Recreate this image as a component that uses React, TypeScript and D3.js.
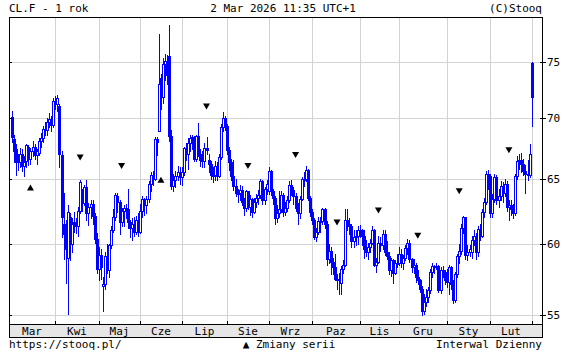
import React from 'react';
import * as d3 from 'd3';

type C = [number, number, number, number]; // open, high, low, close

const monthLabels = ['Mar', 'Kwi', 'Maj', 'Cze', 'Lip', 'Sie', 'Wrz', 'Paz', 'Lis', 'Gru', 'Sty', 'Lut'];
const yTicks = [55, 60, 65, 70, 75];

const mar25: C[] = [
  [70.1, 70.6, 68.0, 68.4], [68.2, 68.6, 66.3, 67.2], [67.4, 67.8, 65.3, 66.3], [66.4, 67.0, 65.7, 66.4],
  [66.3, 67.5, 65.9, 67.0], [67.0, 67.4, 65.6, 66.0], [66.0, 66.8, 65.2, 66.3], [66.4, 67.8, 65.9, 67.7],
  [67.6, 67.7, 66.1, 66.6], [66.6, 67.5, 66.2, 67.2], [67.2, 68.1, 66.8, 67.6], [67.6, 67.8, 66.6, 66.9],
  [66.9, 67.4, 66.2, 67.2], [67.1, 68.3, 66.9, 68.1], [68.1, 68.7, 67.6, 68.3], [68.3, 69.3, 68.0, 69.1],
  [69.1, 69.7, 68.6, 69.0], [69.0, 70.0, 68.6, 69.7], [69.7, 70.4, 69.2, 69.9], [69.9, 70.2, 68.9, 69.4],
  [69.4, 71.7, 69.2, 71.5],
];
const apr25: C[] = [
  [71.5, 71.9, 70.8, 71.2], [71.2, 72.0, 70.6, 71.7], [71.0, 71.2, 65.9, 67.0], [66.9, 67.2, 60.5, 62.0],
  [61.5, 63.9, 58.9, 60.7], [61.3, 61.8, 57.2, 59.6], [59.0, 62.9, 55.1, 62.4], [62.0, 62.3, 58.8, 60.1],
  [60.0, 61.9, 59.4, 61.5], [61.6, 62.4, 60.9, 61.5], [61.5, 61.9, 60.8, 61.3], [61.3, 62.8, 60.6, 62.5],
  [62.5, 64.9, 62.3, 64.7], [64.0, 64.2, 62.5, 63.1], [63.1, 64.5, 62.9, 64.3], [64.3, 64.9, 61.8, 62.3],
  [62.3, 63.1, 61.4, 62.8], [62.8, 63.3, 61.9, 63.0], [63.0, 63.3, 61.5, 62.1], [62.1, 62.3, 60.1, 60.4],
  [60.4, 60.8, 57.9, 58.2],
];
const may25: C[] = [
  [58.2, 59.8, 57.4, 59.2], [59.2, 59.6, 57.5, 58.3], [57.0, 57.6, 55.3, 57.1], [57.1, 59.4, 56.8, 59.1],
  [59.1, 60.0, 57.9, 58.1], [58.1, 60.0, 57.6, 59.9], [59.9, 61.3, 59.7, 61.0], [61.0, 62.6, 60.9, 62.0],
  [62.0, 63.9, 61.8, 63.7], [63.6, 63.9, 62.4, 63.2], [63.2, 63.3, 60.7, 61.6], [61.6, 62.7, 61.3, 62.5],
  [62.5, 62.9, 61.3, 62.7], [62.7, 63.0, 61.9, 62.6], [62.6, 64.2, 61.2, 61.6], [61.6, 61.8, 60.5, 61.2],
  [61.2, 61.9, 60.3, 61.5], [61.5, 62.0, 60.6, 60.9], [60.9, 62.1, 60.7, 61.8], [61.8, 62.3, 60.6, 60.9],
];
const jun25: C[] = [
  [60.9, 63.0, 60.8, 62.5], [62.5, 63.6, 62.0, 63.4], [63.4, 63.5, 62.2, 62.9], [62.9, 63.6, 62.3, 63.4],
  [63.4, 64.8, 63.2, 64.6], [64.6, 65.5, 64.0, 65.3], [65.3, 65.6, 64.5, 65.0], [65.0, 68.4, 64.9, 68.2],
  [68.2, 68.4, 66.9, 68.0], [68.9, 77.6, 68.9, 73.0], [73.5, 73.9, 70.8, 71.8], [71.8, 75.3, 71.3, 74.8],
  [74.8, 75.7, 73.3, 75.1], [75.0, 75.6, 73.0, 73.8], [75.5, 78.4, 68.1, 68.5], [68.5, 69.0, 64.2, 64.4],
  [64.4, 65.4, 64.0, 64.9], [64.9, 65.6, 64.3, 65.2], [65.2, 66.0, 64.9, 65.5], [65.5, 65.9, 64.6, 65.1],
];
const jul25: C[] = [
  [65.1, 65.9, 64.5, 65.5], [65.5, 67.6, 65.3, 67.5], [67.5, 67.9, 66.5, 67.0], [67.0, 68.3, 65.8, 67.9],
  [67.9, 68.6, 67.2, 68.3], [68.3, 68.6, 67.4, 68.4], [68.4, 68.5, 66.4, 66.6], [66.6, 68.6, 66.4, 68.5],
  [68.5, 69.6, 66.8, 67.0], [67.0, 67.4, 66.0, 66.5], [66.5, 67.2, 65.9, 66.4], [66.4, 67.9, 65.9, 67.5],
  [67.5, 68.4, 67.0, 67.3], [66.5, 67.0, 65.5, 66.2], [66.2, 66.4, 65.0, 65.3], [65.3, 65.9, 64.7, 65.3],
  [65.3, 66.4, 64.9, 66.0], [66.0, 66.3, 64.9, 65.2], [65.2, 67.0, 65.1, 66.7], [66.7, 69.5, 66.6, 69.2],
  [69.2, 70.5, 68.9, 70.0], [70.0, 70.2, 69.0, 69.3],
];
const aug25: C[] = [
  [69.3, 69.5, 67.0, 67.3], [67.3, 67.6, 65.7, 66.3], [66.3, 66.6, 64.9, 65.2], [65.2, 66.5, 64.1, 64.4],
  [64.4, 65.0, 63.6, 63.9], [63.9, 64.2, 63.2, 63.9], [63.9, 64.5, 63.3, 64.1], [64.1, 64.4, 62.9, 63.2],
  [63.2, 63.5, 62.2, 62.7], [62.7, 64.1, 62.5, 64.0], [64.0, 64.0, 62.6, 62.8], [62.8, 63.7, 62.2, 63.4],
  [63.4, 63.5, 62.0, 62.4], [62.4, 63.5, 62.3, 63.2], [63.2, 63.8, 62.8, 63.5], [63.5, 64.1, 63.0, 63.7],
  [63.7, 65.0, 63.5, 64.8], [64.8, 64.9, 63.0, 63.3], [63.3, 64.3, 63.0, 64.2], [64.2, 64.9, 63.8, 64.6],
];
const sep25: C[] = [
  [64.0, 65.9, 63.8, 65.6], [65.6, 65.7, 63.7, 64.0], [64.0, 64.2, 63.0, 63.5], [63.5, 63.6, 61.5, 61.9],
  [61.9, 62.9, 61.6, 62.3], [62.3, 64.0, 62.0, 62.6], [62.6, 64.0, 62.4, 63.7], [63.7, 63.9, 62.1, 62.4],
  [62.4, 63.2, 62.2, 62.7], [62.7, 63.6, 62.5, 63.3], [63.3, 64.8, 63.2, 64.5], [64.5, 64.9, 63.7, 64.1],
  [64.1, 64.3, 63.0, 63.6], [63.6, 63.9, 62.5, 62.7], [62.7, 63.1, 61.5, 62.3], [62.3, 63.6, 61.9, 63.4],
  [63.4, 65.1, 63.3, 65.0], [65.0, 65.5, 64.4, 65.0], [65.0, 66.0, 64.8, 65.7], [65.7, 65.8, 63.3, 63.5],
  [63.5, 63.6, 62.1, 62.4],
];
const oct25: C[] = [
  [62.4, 62.6, 61.5, 61.8], [61.8, 61.9, 60.4, 60.5], [60.5, 61.2, 60.2, 60.9], [60.9, 62.0, 60.7, 61.7],
  [61.7, 62.0, 60.9, 61.7], [61.7, 62.7, 61.5, 62.6], [62.6, 62.7, 61.2, 61.5], [61.5, 61.7, 58.5, 58.9],
  [58.9, 60.0, 58.6, 59.5], [59.5, 59.8, 57.8, 58.7], [58.7, 59.0, 57.8, 58.3], [58.3, 59.3, 57.4, 57.5],
  [57.5, 57.8, 56.8, 57.5], [57.5, 57.9, 56.4, 57.5], [57.2, 58.4, 56.4, 58.2], [58.2, 58.8, 57.9, 58.5],
  [58.5, 62.6, 58.4, 61.8], [61.8, 62.6, 61.0, 61.5], [61.5, 61.9, 60.7, 61.3], [61.3, 61.5, 59.8, 60.2],
  [60.2, 61.0, 59.8, 60.5], [60.5, 61.0, 59.9, 60.6], [60.6, 61.3, 60.0, 61.0],
];
const nov25: C[] = [
  [61.0, 61.4, 60.5, 61.0], [61.0, 61.1, 59.9, 60.6], [60.6, 61.0, 59.0, 59.6], [59.6, 60.3, 59.1, 59.4],
  [59.4, 60.1, 58.9, 59.8], [59.8, 60.4, 59.4, 60.1], [60.1, 61.3, 60.0, 61.0], [61.0, 61.1, 58.4, 58.5],
  [58.5, 59.0, 58.0, 58.7], [58.7, 60.6, 58.6, 60.1], [60.1, 60.5, 59.5, 59.9], [59.9, 61.0, 59.6, 60.7],
  [60.7, 61.0, 59.2, 59.4], [59.4, 60.2, 58.9, 59.1], [59.1, 59.4, 57.8, 58.1], [58.1, 59.0, 57.7, 58.8],
  [58.8, 58.9, 57.2, 57.9], [57.9, 58.8, 57.8, 58.6], [58.6, 59.3, 58.3, 58.6],
];
const dec25: C[] = [
  [58.6, 59.8, 58.5, 59.3], [59.3, 59.6, 58.3, 58.6], [58.6, 59.2, 58.2, 59.0], [59.0, 59.9, 58.8, 59.7],
  [59.7, 60.4, 59.3, 60.1], [60.1, 60.3, 58.7, 58.9], [58.9, 59.0, 58.0, 58.3], [58.3, 58.9, 57.9, 58.5],
  [58.5, 58.6, 57.3, 57.6], [57.6, 58.1, 57.1, 57.4], [57.4, 57.5, 56.6, 56.8], [56.8, 57.0, 55.0, 55.3],
  [55.3, 56.4, 55.1, 55.9], [55.9, 56.8, 55.6, 56.2], [56.2, 56.9, 55.9, 56.7], [56.7, 58.2, 56.5, 58.0],
  [58.0, 58.6, 57.6, 58.4], [58.4, 58.5, 57.9, 58.4], [58.4, 58.6, 58.2, 58.4], [58.4, 58.5, 56.6, 56.7],
  [56.7, 58.3, 56.5, 58.1], [58.1, 58.4, 57.6, 58.0], [58.0, 58.1, 57.1, 57.4],
];
const jan26: C[] = [
  [57.4, 58.2, 56.9, 57.3], [57.3, 58.5, 56.4, 58.3], [58.3, 58.4, 56.8, 57.1], [57.1, 57.4, 55.8, 56.0],
  [56.0, 58.0, 55.9, 57.8], [57.8, 59.3, 57.6, 59.1], [59.1, 60.0, 58.6, 59.5], [59.5, 61.5, 59.3, 61.2],
  [61.2, 62.1, 60.8, 62.0], [62.0, 62.0, 58.9, 59.2], [59.2, 59.9, 58.8, 59.4], [59.4, 59.9, 59.1, 59.6],
  [59.4, 60.6, 59.0, 60.3], [60.3, 61.0, 59.9, 60.6], [60.6, 60.8, 58.9, 59.4], [59.4, 61.3, 59.1, 61.1],
  [61.1, 61.5, 60.3, 60.6], [60.6, 62.6, 60.5, 62.4], [62.4, 63.5, 62.0, 63.2], [63.2, 65.6, 63.0, 65.4],
  [65.4, 65.7, 64.2, 65.2],
];
const feb26: C[] = [
  [65.2, 65.4, 62.0, 62.3], [62.3, 63.8, 62.0, 63.4], [63.4, 65.4, 63.2, 65.1], [65.1, 65.3, 63.0, 63.3],
  [63.3, 64.2, 62.8, 63.6], [63.6, 64.8, 63.3, 64.4], [64.4, 64.7, 63.2, 63.9], [63.9, 65.0, 63.6, 64.6],
  [64.6, 64.8, 62.5, 62.8], [62.8, 63.3, 61.8, 62.9], [62.9, 63.3, 62.2, 62.6], [62.6, 63.0, 61.9, 62.3],
  [62.3, 65.4, 62.2, 65.2], [65.2, 66.8, 65.0, 66.4], [66.4, 67.0, 65.8, 66.5], [66.5, 67.1, 65.5, 66.2],
  [66.2, 66.6, 65.3, 65.6], [65.6, 66.1, 63.9, 65.4], [65.4, 66.5, 64.9, 65.3], [65.3, 67.8, 65.1, 67.0],
];
const mar26: C[] = [[74.9, 75.0, 69.3, 71.8]];

const monthSeries = [mar25, apr25, may25, jun25, jul25, aug25, sep25, oct25, nov25, dec25, jan26, feb26, mar26];

// series changes (contract rolls): candle index, price level, direction
const rollIndex = [9, 33, 53, 72, 94, 114, 137, 157, 177, 196, 216, 240];
const rollPrice = [64.3, 66.7, 66.0, 64.9, 71.0, 66.0, 66.9, 61.6, 62.5, 60.6, 64.0, 67.3];
const rollUp = [true, false, false, true, false, false, false, false, false, false, false, false];

const FONT = '"DejaVu Sans Mono", "Liberation Mono", monospace';
const BLUE = '#0000ff';

export default function App() {
  const W = 567, H = 355;
  const left = 9, right = 542, top = 17, plotBottom = 324, bandBottom = 337;

  const data: C[] = monthSeries.flat();
  const starts: number[] = [];
  let acc = 0;
  monthSeries.forEach((m) => { starts.push(acc); acc += m.length; });

  const x = d3.scaleLinear().domain([0, data.length - 1]).range([11.8, 531.7]);
  const y = d3.scaleLog().domain([55, 75]).range([315, 61.7]);

  const gridXs = starts.slice(1).map((s) => Math.round(x(s)));
  const labelXs = monthLabels.map((_, i) => {
    const a = i === 0 ? left : gridXs[i - 1];
    const b = gridXs[i];
    return (a + b) / 2;
  });

  const candles = data.map((d, i) => {
    const [o, h, l, c] = d;
    const cx = Math.round(x(i));
    const up = c >= o;
    const yt = Math.round(y(Math.max(o, c)));
    const yb = Math.round(y(Math.min(o, c)));
    const yh = Math.round(y(h));
    const yl = Math.round(y(l));
    const bh = Math.max(yb - yt, 1);
    return (
      <g key={i}>
        <line x1={cx + 0.5} x2={cx + 0.5} y1={yh} y2={yt} stroke={BLUE} strokeWidth={1} />
        <line x1={cx + 0.5} x2={cx + 0.5} y1={yt + bh} y2={yl + 1} stroke={BLUE} strokeWidth={1} />
        {up ? (
          <rect x={cx - 0.5} y={yt + 0.5} width={2} height={bh} fill="#ffffff" stroke={BLUE} strokeWidth={1} />
        ) : (
          <rect x={cx - 1} y={yt} width={3} height={bh + 1} fill={BLUE} />
        )}
      </g>
    );
  });

  const tri = (cx: number, cy: number, upDir: boolean) =>
    upDir
      ? `M${cx - 3.5},${cy + 3} L${cx + 3.5},${cy + 3} L${cx},${cy - 3} Z`
      : `M${cx - 3.5},${cy - 3} L${cx + 3.5},${cy - 3} L${cx},${cy + 3} Z`;

  return (
    <svg width={W} height={H} style={{ position: 'absolute', left: 0, top: 0, background: '#fff' }}
      fontFamily={FONT} fontSize={11}>
      <rect x={0} y={0} width={W} height={H} fill="#fff" />
      <g shapeRendering="crispEdges">
        {gridXs.map((gx, i) => (
          <line key={'gx' + i} x1={gx + 0.5} x2={gx + 0.5} y1={top} y2={plotBottom} stroke="#d3d3d3" />
        ))}
        {yTicks.map((t) => {
          const gy = Math.round(y(t)) + 0.5;
          return <line key={'gy' + t} x1={left} x2={right} y1={gy} y2={gy} stroke="#d3d3d3" />;
        })}
      </g>
      <g shapeRendering="crispEdges">{candles}</g>
      {rollIndex.map((ri, i) => (
        <path key={'r' + i} d={tri(x(ri), y(rollPrice[i]), rollUp[i])} fill="#000" />
      ))}
      <g shapeRendering="crispEdges">
        <rect x={left + 0.5} y={plotBottom + 0.5} width={right - left} height={bandBottom - plotBottom} fill="#e6e6e6" stroke="#000" />
        {gridXs.map((gx, i) => (
          <line key={'bt' + i} x1={gx + 0.5} x2={gx + 0.5} y1={plotBottom - 3} y2={plotBottom} stroke="#000" />
        ))}
        {yTicks.map((t) => {
          const gy = Math.round(y(t)) + 0.5;
          return (
            <g key={'yt' + t}>
              <line x1={left} x2={left + 3} y1={gy} y2={gy} stroke="#000" />
              <line x1={right - 2} x2={right + 4} y1={gy} y2={gy} stroke="#000" />
            </g>
          );
        })}
        <line x1={left + 0.5} x2={left + 0.5} y1={top} y2={bandBottom} stroke="#000" />
        <line x1={right + 0.5} x2={right + 0.5} y1={top} y2={bandBottom + 1} stroke="#000" />
        <line x1={left} x2={right + 1} y1={top + 0.5} y2={top + 0.5} stroke="#000" />
      </g>
      {monthLabels.map((m, i) => (
        <text key={m} x={labelXs[i]} y={335} textAnchor="middle" fill="#000">{m}</text>
      ))}
      {yTicks.map((t) => (
        <text key={'yl' + t} x={547} y={y(t) + 4} fill="#000">{t}</text>
      ))}
      <text x={9} y={12} fill="#000">CL.F - 1 rok</text>
      <text x={283} y={12} textAnchor="middle" fill="#000">2 Mar 2026 11:35 UTC+1</text>
      <text x={542} y={12} textAnchor="end" fill="#000">(C)Stooq</text>
      <text x={9} y={348} fill="#000">https://stooq.pl/</text>
      <text x={289} y={348} textAnchor="middle" fill="#000">▲ Zmiany serii</text>
      <text x={542} y={348} textAnchor="end" fill="#000">Interwal Dzienny</text>
    </svg>
  );
}
